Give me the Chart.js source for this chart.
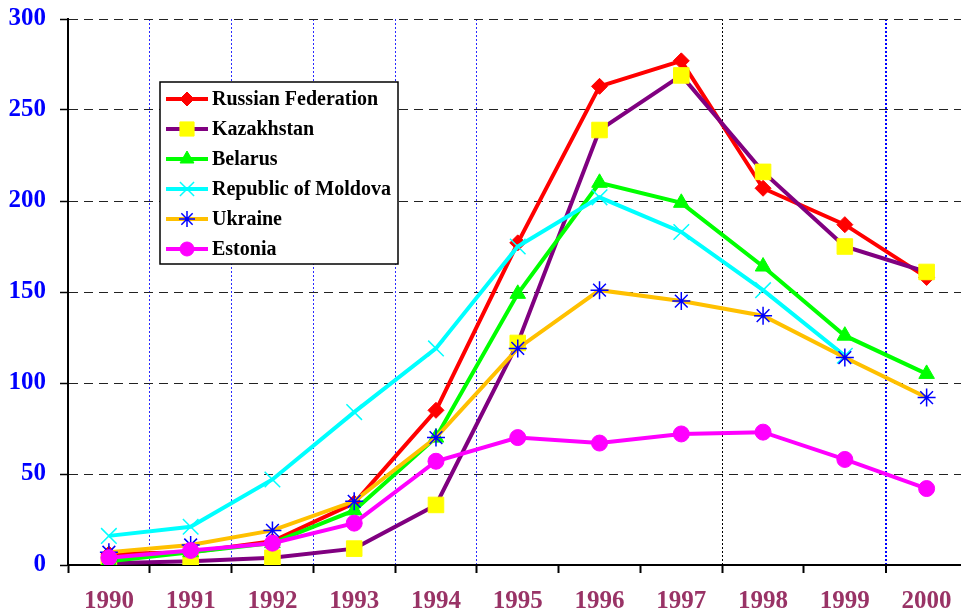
<!DOCTYPE html>
<html>
<head>
<meta charset="utf-8">
<script src="https://cdn.jsdelivr.net/npm/chart.js@4.4.0/dist/chart.umd.min.js"></script>
<style>
  html, body { margin: 0; padding: 0; background: #fff; overflow: hidden; }
  canvas { display: block; }
</style>
</head>
<body>
<canvas id="chart" width="980" height="611"></canvas>
<script>
// values
const years = ['1990', '1991', '1992', '1993', '1994', '1995', '1996', '1997', '1998', '1999', '2000'];
const russia = [6, 7, 13, 34, 85, 177, 263, 277, 207, 187, 158];
const kazakhstan = [1, 2, 4, 9, 33, 122, 239, 269, 216, 175, 161];
const belarus = [2, 7, 12, 30, 70, 149, 210, 199, 164, 126, 105];
const moldova = [16, 21, 47, 84, 119, 175, 202, 183, 151, 115, null];
const ukraine = [7, 11, 19, 35, 70, 119, 151, 145, 137, 114, 92];
const estonia = [4, 8, 12, 23, 57, 70, 67, 72, 73, 58, 42];
const yMin = 0, yMax = 300, yStep = 50;

const serif = '"Liberation Serif", "Times New Roman", serif';

function series(label, data, color, style, radius, pointBg, pointBorder, pbw, order) {
    return {
        label: label,
        data: data,
        borderColor: color,
        backgroundColor: color,
        borderWidth: 4,
        tension: 0,
        pointStyle: style,
        pointRadius: radius,
        pointHoverRadius: radius,
        pointBackgroundColor: pointBg,
        pointBorderColor: pointBorder,
        pointBorderWidth: pbw,
        order: order
    };
}

const datasets = [
    series('Russian Federation', russia, '#ff0000', 'rectRot', 8, '#ff0000', '#ff0000', 1, 5),
    series('Kazakhstan', kazakhstan, '#800080', 'rect', 11, '#ffff00', '#ffff00', 1, 4),
    series('Belarus', belarus, '#00ff00', 'triangle', 9, '#00ff00', '#00ff00', 1, 3),
    series('Republic of Moldova', moldova, '#00ffff', 'crossRot', 11, '#00ffff', '#00ffff', 1.5, 2),
    series('Ukraine', ukraine, '#ffc000', 'star', 9, '#0000ff', '#0000ff', 1.5, 1),
    series('Estonia', estonia, '#ff00ff', 'circle', 8, '#ff00ff', '#ff00ff', 1, 0)
];

// vertical dotted lines only at some category boundaries, like the original
const xGridColors = ['rgba(0,0,0,0)', '#2a2aff', '#2a2aff', '#2a2aff', '#2a2aff', '#2a2aff',
    'rgba(0,0,0,0)', 'rgba(0,0,0,0)', '#000', 'rgba(0,0,0,0)', '#0000ff', 'rgba(0,0,0,0)'];

const boxLegend = {
    id: 'boxLegend',
    afterDatasetsDraw(chart) {
        const ctx = chart.ctx;
        const left = 160, top = 82, w = 238, h = 182;
        ctx.save();
        ctx.fillStyle = '#fff';
        ctx.fillRect(left, top, w, h);
        ctx.strokeStyle = '#000';
        ctx.lineWidth = 1.5;
        ctx.strokeRect(left, top, w, h);
        chart.data.datasets.forEach((ds, i) => {
            const y = 99 + i * 30;
            ctx.strokeStyle = ds.borderColor;
            ctx.lineWidth = 4;
            ctx.beginPath();
            ctx.moveTo(166, y);
            ctx.lineTo(208, y);
            ctx.stroke();
            ctx.fillStyle = ds.pointBackgroundColor;
            ctx.strokeStyle = ds.pointBorderColor;
            ctx.lineWidth = ds.pointBorderWidth;
            Chart.helpers.drawPoint(ctx, {
                pointStyle: ds.pointStyle,
                radius: ds.pointRadius - 1,
                rotation: 0,
                borderWidth: ds.pointBorderWidth
            }, 187, y);
            ctx.fillStyle = '#000';
            ctx.font = 'bold 20px ' + serif;
            ctx.textBaseline = 'middle';
            ctx.textAlign = 'left';
            ctx.fillText(ds.label, 212, y + 1);
        });
        ctx.restore();
    }
};

new Chart(document.getElementById('chart'), {
    type: 'line',
    data: { labels: years, datasets: datasets },
    options: {
        responsive: false,
        animation: false,
        layout: { padding: { top: 19, right: 8, bottom: 0, left: 0 } },
        plugins: {
            legend: { display: false },
            tooltip: { enabled: false }
        },
        scales: {
            x: {
                offset: true,
                afterFit: (scale) => { scale.height = 46; scale.paddingLeft = 0; scale.paddingRight = 0; },
                border: { display: true, color: '#000', width: 2, dash: [2, 2] },
                grid: {
                    offset: true,
                    color: (ctx) => xGridColors[ctx.index] || 'rgba(0,0,0,0)',
                    lineWidth: (ctx) => ctx.index === 10 ? 2 : 1,
                    tickColor: '#000',
                    tickLength: 8,
                    tickWidth: 2
                },
                ticks: {
                    color: '#993366',
                    font: { family: serif, size: 25, weight: 'bold' },
                    padding: 14,
                    maxRotation: 0,
                    autoSkip: false
                }
            },
            y: {
                min: yMin,
                max: yMax,
                afterFit: (scale) => { scale.width = 68; scale.paddingTop = 0; scale.paddingBottom = 0; },
                border: { display: true, color: '#000', width: 2, dash: [9, 6] },
                grid: {
                    color: (ctx) => ctx.index === 0 ? 'rgba(0,0,0,0)' : '#222',
                    lineWidth: 1,
                    tickColor: '#000',
                    tickLength: 8,
                    tickWidth: 1.5
                },
                ticks: {
                    stepSize: yStep,
                    color: '#0000ff',
                    font: { family: serif, size: 25, weight: 'bold' },
                    padding: 14
                }
            }
        }
    },
    plugins: [boxLegend]
});
</script>
</body>
</html>
